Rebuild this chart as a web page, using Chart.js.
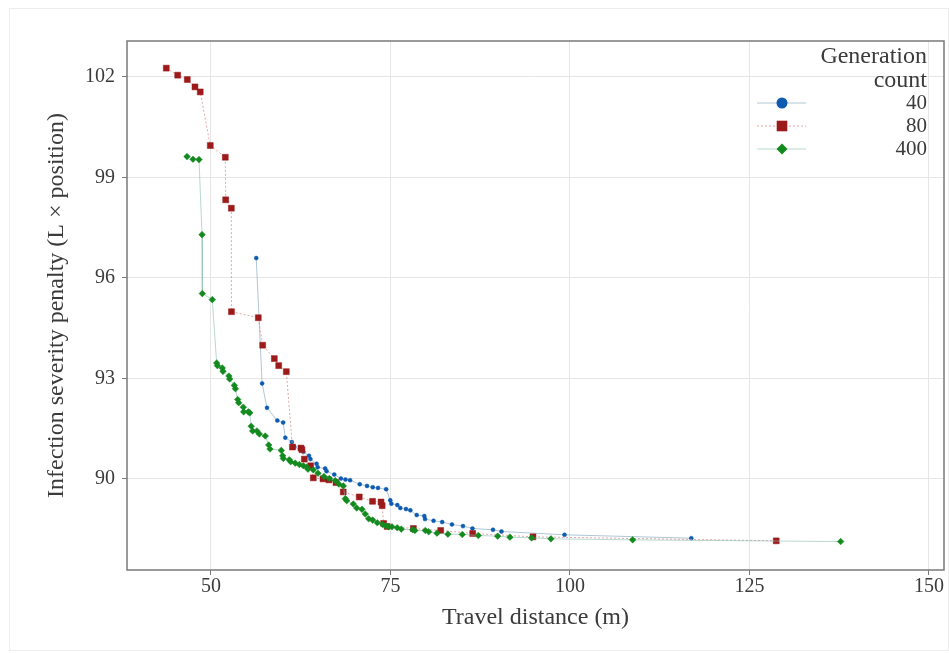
<!DOCTYPE html>
<html>
<head>
<meta charset="utf-8">
<script src="https://cdn.jsdelivr.net/npm/chart.js@4.4.0/dist/chart.umd.min.js"></script>
<style>
html, body { margin: 0; padding: 0; background: #fff; }
#wrap { position: relative; width: 949px; height: 653px; }
#frame { position: absolute; left: 9px; top: 8px; width: 940px; height: 643px; border: 1px solid #ededed; box-sizing: border-box; }
canvas { position: absolute; left: 0; top: 0; }
</style>
</head>
<body>
<div id="wrap">
  <div id="frame"></div>
  <canvas id="chart" width="949" height="653"></canvas>
</div>
<script>
// Pareto fronts per generation count (travel distance vs infection penalty)
const gen40X = [56.3, 57.12, 57.8, 59.24, 60.05, 60.35, 61.26, 61.6, 62.86, 63.65, 63.85, 64.7, 64.86, 65.9, 66.1,
    67.17, 68.1, 68.73, 69.37, 70.72, 71.73, 72.53, 73.26, 74.4, 74.97, 75.12, 75.95, 76.37, 77.16, 77.77,
    78.65, 79.71, 79.81, 81.0, 82.2, 83.56, 85.1, 86.42, 89.28, 90.46, 99.24, 116.9];
const gen40Y = [96.59, 92.85, 92.12, 91.74, 91.68, 91.23, 91.10, 90.96, 90.81, 90.69, 90.59, 90.45, 90.35, 90.31, 90.23,
    90.13, 90.01, 89.98, 89.96, 89.84, 89.79, 89.75, 89.73, 89.69, 89.36, 89.26, 89.22, 89.13, 89.10, 89.06,
    88.92, 88.89, 88.80, 88.75, 88.71, 88.64, 88.59, 88.52, 88.48, 88.43, 88.33, 88.23];

const gen80X = [43.77, 45.36, 46.7, 47.77, 48.5, 49.9, 51.99, 52.05, 52.83, 52.85, 56.59, 57.2, 58.82, 59.43, 60.49,
    61.35, 62.53, 62.67, 63.0, 63.88, 64.25, 65.6, 66.43, 67.41, 68.42, 70.65, 72.5, 73.68, 73.84, 74.05,
    74.53, 78.19, 81.99, 86.45, 94.85, 128.73];
const gen80Y = [102.26, 102.05, 101.92, 101.70, 101.55, 99.95, 99.6, 98.33, 98.08, 94.99, 94.81, 93.99, 93.59, 93.38, 93.2,
    90.95, 90.92, 90.87, 90.59, 90.39, 90.03, 90.0, 89.97, 89.89, 89.61, 89.46, 89.33, 89.31, 89.2, 88.67,
    88.58, 88.52, 88.46, 88.37, 88.27, 88.15];

const gen400X = [46.66, 47.49, 48.33, 48.75, 48.79, 50.18, 50.79, 50.9, 51.57, 51.67, 52.5, 52.6, 53.25, 53.4, 53.72,
    53.86, 54.5, 54.55, 55.2, 55.4, 55.6, 55.8, 56.4, 56.73, 57.56, 58.04, 58.22, 59.79, 59.99, 60.07,
    60.9, 61.1, 61.74, 62.3, 62.86, 63.33, 63.51, 64.25, 64.9, 65.74, 66.48, 67.31, 67.79, 68.43, 68.71,
    68.9, 69.82, 70.29, 71.03, 71.49, 71.96, 72.52, 73.16, 73.91, 74.3, 74.74, 75.2, 75.94, 76.5, 78.09,
    78.4, 79.85, 80.32, 81.48, 83.0, 85.0, 87.23, 89.93, 91.64, 94.66, 97.35, 108.73, 137.7];
const gen400Y = [99.62, 99.54, 99.53, 97.29, 95.53, 95.35, 93.46, 93.38, 93.31, 93.21, 93.07, 92.98, 92.79, 92.69, 92.37,
    92.27, 92.14, 92.0, 92.0, 91.97, 91.57, 91.43, 91.43, 91.34, 91.28, 91.01, 90.89, 90.85, 90.69, 90.61,
    90.57, 90.51, 90.47, 90.43, 90.39, 90.35, 90.29, 90.27, 90.17, 90.07, 90.01, 89.95, 89.85, 89.79, 89.41,
    89.35, 89.25, 89.13, 89.09, 88.95, 88.81, 88.77, 88.69, 88.64, 88.6, 88.57, 88.57, 88.54, 88.5, 88.48,
    88.46, 88.46, 88.42, 88.38, 88.35, 88.34, 88.31, 88.29, 88.26, 88.24, 88.21, 88.18, 88.13];

const seriesLabels = ['40', '80', '400'];
const xTicks = [50, 75, 100, 125, 150];
const yTicks = [90, 93, 96, 99, 102];

const FONT = '"Liberation Serif", "DejaVu Serif", serif';
const TEXT = '#3b3b3b';

const styles = [
    { point: '#0d5bb0', line: 'rgba(125,160,185,0.6)', dash: [], shape: 'circle', r: 2, legendR: 5.5 },
    { point: '#9c1a1a', line: 'rgba(215,140,140,0.75)', dash: [2, 2], shape: 'rect', r: 4.2, legendR: 7.5 },
    { point: '#128a1e', line: 'rgba(140,190,175,0.6)', dash: [], shape: 'rectRot', r: 3.3, legendR: 5.5 }
];

function zip(xs, ys) {
    return xs.map((x, i) => ({ x: x, y: ys[i] }));
}

function makeDataset(idx, xs, ys, order) {
    const s = styles[idx];
    return {
        label: seriesLabels[idx],
        data: zip(xs, ys),
        showLine: true,
        borderColor: s.line,
        borderWidth: 1,
        borderDash: s.dash,
        pointStyle: s.shape,
        pointRadius: s.r,
        pointBackgroundColor: s.point,
        pointBorderColor: s.point,
        pointBorderWidth: 0.5,
        order: order
    };
}

// panel border + ggplot style legend
const panelPlugin = {
    id: 'panel',
    afterDraw(chart) {
        const ctx = chart.ctx;
        const a = chart.chartArea;
        ctx.save();
        ctx.strokeStyle = '#7a7a7a';
        ctx.lineWidth = 1.5;
        ctx.strokeRect(a.left, a.top, a.right - a.left, a.bottom - a.top);

        ctx.font = '24px ' + FONT;
        ctx.fillStyle = TEXT;
        ctx.textAlign = 'right';
        ctx.textBaseline = 'middle';
        ctx.fillText('Generation', 927, 57);
        ctx.fillText('count', 927, 81);

        ctx.font = '21px ' + FONT;
        const rows = [103, 126, 149];
        seriesLabels.forEach((lab, i) => {
            const s = styles[i];
            const y = rows[i];
            ctx.save();
            ctx.strokeStyle = s.line;
            ctx.lineWidth = 1;
            ctx.setLineDash(s.dash);
            ctx.beginPath();
            ctx.moveTo(757, y);
            ctx.lineTo(806, y);
            ctx.stroke();
            ctx.restore();
            ctx.fillStyle = s.point;
            ctx.strokeStyle = s.point;
            Chart.helpers.drawPoint(ctx, { pointStyle: s.shape, radius: s.legendR, rotation: 0, borderWidth: 0 }, 782, y);
            ctx.fillStyle = TEXT;
            ctx.fillText(lab, 927, y);
        });
        ctx.restore();
    }
};

const ctx = document.getElementById('chart').getContext('2d');
new Chart(ctx, {
    type: 'scatter',
    data: {
        datasets: [
            makeDataset(0, gen40X, gen40Y, 2),
            makeDataset(1, gen80X, gen80Y, 1),
            makeDataset(2, gen400X, gen400Y, 0)
        ]
    },
    options: {
        responsive: false,
        animation: false,
        events: [],
        layout: { padding: { left: 0, top: 41, right: 5, bottom: 0 } },
        plugins: {
            legend: { display: false },
            tooltip: { enabled: false }
        },
        scales: {
            x: {
                type: 'linear',
                min: 38.3,
                max: 152.1,
                afterBuildTicks: (scale) => { scale.ticks = xTicks.map(v => ({ value: v })); },
                afterFit: (scale) => { scale.height = 83; },
                grid: { color: '#e6e6e6', lineWidth: 1, tickColor: '#7a7a7a', tickLength: 5 },
                border: { display: false },
                ticks: { color: TEXT, font: { family: FONT, size: 20 }, padding: 0, maxRotation: 0 },
                title: { display: true, text: 'Travel distance (m)', color: TEXT, font: { family: FONT, size: 24 }, padding: { top: 0, bottom: 21 } }
            },
            y: {
                type: 'linear',
                min: 87.28,
                max: 103.07,
                afterBuildTicks: (scale) => { scale.ticks = yTicks.map(v => ({ value: v })); },
                afterFit: (scale) => { scale.width = 127; },
                grid: { color: '#e6e6e6', lineWidth: 1, tickColor: '#7a7a7a', tickLength: 5 },
                border: { display: false },
                ticks: { color: TEXT, font: { family: FONT, size: 20 }, padding: 7 },
                title: { display: true, text: 'Infection severity penalty (L \u00d7 position)', color: TEXT, font: { family: FONT, size: 24 }, padding: { top: 42, bottom: 0 } }
            }
        }
    },
    plugins: [panelPlugin]
});
</script>
</body>
</html>
